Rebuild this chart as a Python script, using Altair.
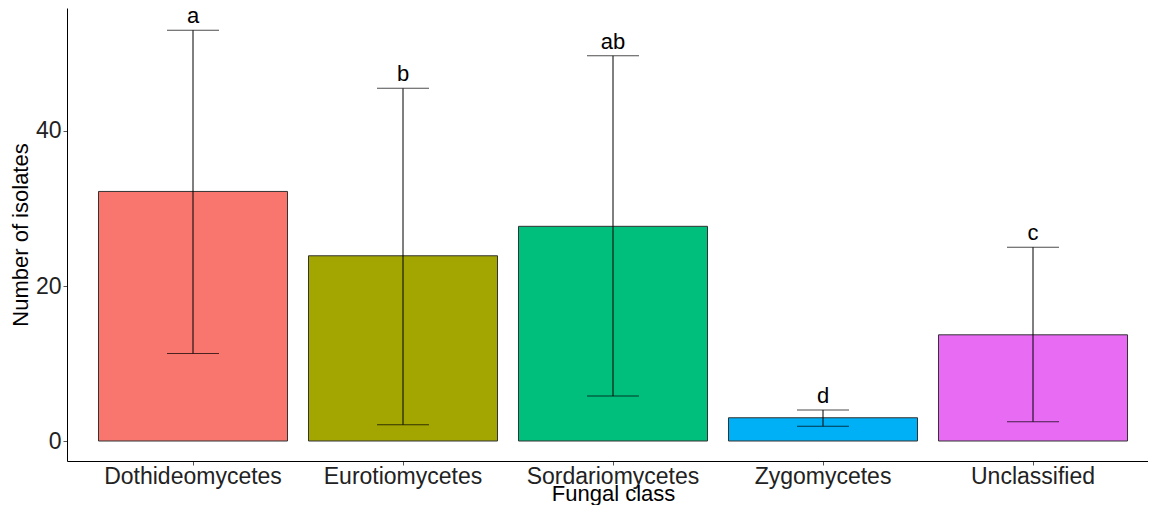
import altair as alt
import pandas as pd

classes = ["Dothideomycetes", "Eurotiomycetes", "Sordariomycetes", "Zygomycetes", "Unclassified"]
means = [32.2, 23.9, 27.7, 3.0, 13.7]
lower = [11.3, 2.1, 5.8, 1.9, 2.5]
upper = [53.0, 45.5, 49.7, 4.0, 25.0]
letters = ["a", "b", "ab", "d", "c"]
colors = ["#F8766D", "#A3A500", "#00BF7D", "#00B0F6", "#E76BF3"]

df = pd.DataFrame({"cls": classes, "mean": means, "lo": lower, "hi": upper, "lab": letters})

FONT = "Liberation Sans"
xscale = alt.Scale(range=[0, 1092], paddingInner=0.1, paddingOuter=0.15)
xaxis = alt.Axis(labelAngle=0, labelFontSize=23, titleFontSize=22, labelColor="#222222",
                 titleColor="black", titleFontWeight="normal", labelPadding=0,
                 titleBaseline="bottom", titleY=44, tickColor="#555555", tickSize=4,
                 domainColor="black", labelFont=FONT, titleFont=FONT, grid=False)
yscale = alt.Scale(domain=[-2.58, 55.87], nice=False, zero=False)
yaxis = alt.Axis(values=[0, 20, 40], grid=False, labelFontSize=23, titleFontSize=22,
                 labelColor="#222222", titleColor="black", titleFontWeight="normal",
                 tickColor="#555555", tickSize=4, labelPadding=2, titlePadding=3,
                 domainColor="black", labelFont=FONT, titleFont=FONT)

xo = alt.X("cls:N", sort=classes, title="Fungal class", scale=xscale, axis=xaxis)

base = alt.Chart(df)

bars = base.mark_bar(stroke="#333333", strokeWidth=1).encode(
    x=xo,
    y=alt.Y("mean:Q", scale=yscale, title="Number of isolates", axis=yaxis),
    y2=alt.Y2(datum=0),
    color=alt.Color("cls:N", sort=classes, scale=alt.Scale(domain=classes, range=colors), legend=None),
)

rules = base.mark_rule(color="black", strokeWidth=1).encode(
    x=xo, y=alt.Y("lo:Q", scale=yscale, title="Number of isolates", axis=yaxis), y2="hi:Q")

cap_hi = base.mark_tick(color="black", thickness=1, size=52).encode(
    x=xo, y=alt.Y("hi:Q", scale=yscale, title="Number of isolates", axis=yaxis))
cap_lo = base.mark_tick(color="black", thickness=1, size=52).encode(
    x=xo, y=alt.Y("lo:Q", scale=yscale, title="Number of isolates", axis=yaxis))

text = base.mark_text(fontSize=22, font=FONT, color="black", baseline="alphabetic", dy=-7).encode(
    x=xo, y=alt.Y("hi:Q", scale=yscale, title="Number of isolates", axis=yaxis), text="lab:N")

chart = alt.layer(bars, rules, cap_hi, cap_lo, text).properties(
    width=1081, height=453, background="white",
    autosize=alt.AutoSizeParams(type="none"),
    padding={"left": 59, "top": 0, "right": 0, "bottom": 44},
).configure_view(stroke=None).configure_axis(grid=False)

chart.save("out.html", embed_options={"renderer": "svg", "actions": False})
